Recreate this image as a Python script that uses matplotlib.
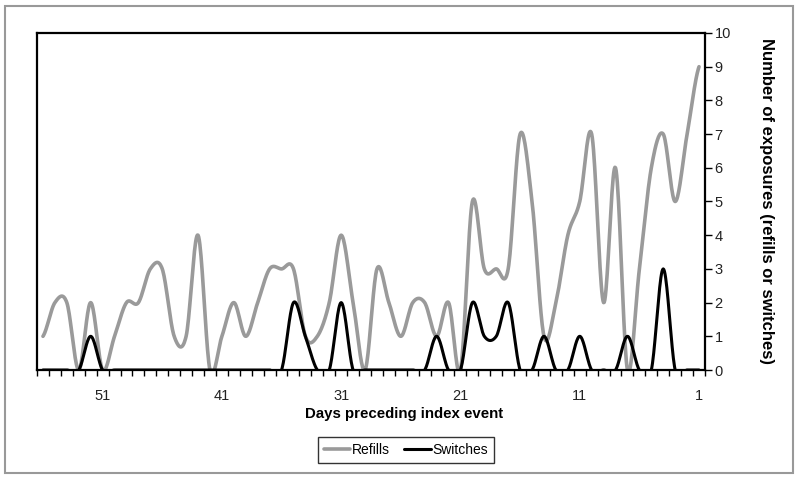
import numpy as np
import matplotlib
matplotlib.use("Agg")
import matplotlib.pyplot as plt
from matplotlib.patches import Rectangle

plt.rcParams['font.family'] = ['Liberation Sans', 'DejaVu Sans']

# days preceding index event, left to right (56 ... 1)
days = list(range(56, 0, -1))

refills = [1, 2, 2, 0, 2, 0, 1, 2,      # 56-49
           2, 3, 3, 1, 1, 4, 0, 1,      # 48-41
           2, 1, 2, 3, 3, 3, 1, 1,      # 40-33
           2, 4, 2, 0, 3, 2, 1, 2,      # 32-25
           2, 1, 2, 0, 5, 3, 3, 3,      # 24-17
           7, 5, 1, 2, 4, 5, 7, 2,      # 16-9
           6, 0, 3, 6, 7, 5, 7, 9]      # 8-1

switches = [0, 0, 0, 0, 1, 0, 0, 0,     # 56-49
            0, 0, 0, 0, 0, 0, 0, 0,     # 48-41
            0, 0, 0, 0, 0, 2, 1, 0,     # 40-33
            0, 2, 0, 0, 0, 0, 0, 0,     # 32-25
            0, 1, 0, 0, 2, 1, 1, 2,     # 24-17
            0, 0, 1, 0, 0, 1, 0, 0,     # 16-9
            0, 1, 0, 0, 3, 0, 0, 0]     # 8-1

xtick_days = [51, 41, 31, 21, 11, 1]


def smooth(y, n=20):
    # excel-like smoothed line (catmull-rom bezier)
    y = np.asarray(y, dtype=float)
    x = np.arange(len(y), dtype=float)
    xs, ys = [], []
    for i in range(len(y) - 1):
        y0 = y[i - 1] if i > 0 else y[i]
        y3 = y[i + 2] if i + 2 < len(y) else y[i + 1]
        c1 = y[i] + (y[i + 1] - y0) / 6
        c2 = y[i + 1] - (y3 - y[i]) / 6
        t = np.linspace(0, 1, n, endpoint=False)
        b = ((1 - t) ** 3 * y[i] + 3 * (1 - t) ** 2 * t * c1
             + 3 * (1 - t) * t ** 2 * c2 + t ** 3 * y[i + 1])
        xs.append(x[i] + t)
        ys.append(b)
    xs.append([x[-1]])
    ys.append([y[-1]])
    return np.concatenate(xs), np.concatenate(ys)


fig = plt.figure(figsize=(8, 4.78), dpi=100)
ax = fig.add_axes([37 / 800, 108 / 478, 668 / 800, 337 / 478])

fig.patches.append(Rectangle((5 / 800, 5 / 478), 788 / 800, 467 / 478,
                             transform=fig.transFigure, fill=False,
                             edgecolor='#999999', lw=1.5))

xr, yr = smooth(refills)
xsw, ysw = smooth(switches)
ax.plot(xr, yr, color='#9a9a9a', lw=2.6, label='Refills', solid_capstyle='round')
ax.plot(xsw, ysw, color='black', lw=2.2, label='Switches', solid_capstyle='round')

ax.set_xlim(-0.5, len(days) - 0.5)
ax.set_ylim(0, 10)

pos = [days.index(d) for d in xtick_days]
ax.set_xticks(pos)
ax.set_xticklabels([str(d) for d in xtick_days], fontsize=10.5, color='#222222')
ax.set_xticks(np.arange(-0.5, len(days), 1.0), minor=True)
ax.tick_params(axis='x', which='major', length=0, pad=14)
ax.tick_params(axis='x', which='minor', length=4, width=1, direction='out')

ax.yaxis.tick_right()
ax.set_yticks(range(0, 11))
ax.tick_params(axis='y', length=5, width=1, direction='out', labelsize=10.5,
               labelcolor='#222222', pad=2)

for s in ax.spines.values():
    s.set_linewidth(1.6)
    s.set_color('black')

ax.set_xlabel('Days preceding index event', fontsize=10.8, fontweight='bold')
ax.xaxis.set_label_coords((404 - 37) / 668, -(407 - 370) / 337)
ax.yaxis.set_label_position('right')
ax.set_ylabel('Number of exposures (refills or switches)', fontsize=12,
              fontweight='bold', rotation=-90, va='center')
ax.yaxis.set_label_coords((767 - 37) / 668, 0.5)

leg = fig.legend(loc='center', bbox_to_anchor=(406 / 800, 1 - 450 / 478),
                 ncol=2, fontsize=10, frameon=True, fancybox=False,
                 handlelength=1.9, handletextpad=0.15, columnspacing=1.0,
                 borderpad=0.45)
leg.get_frame().set_edgecolor('black')
leg.get_frame().set_linewidth(1.0)

fig.savefig('out.png', dpi=100)
